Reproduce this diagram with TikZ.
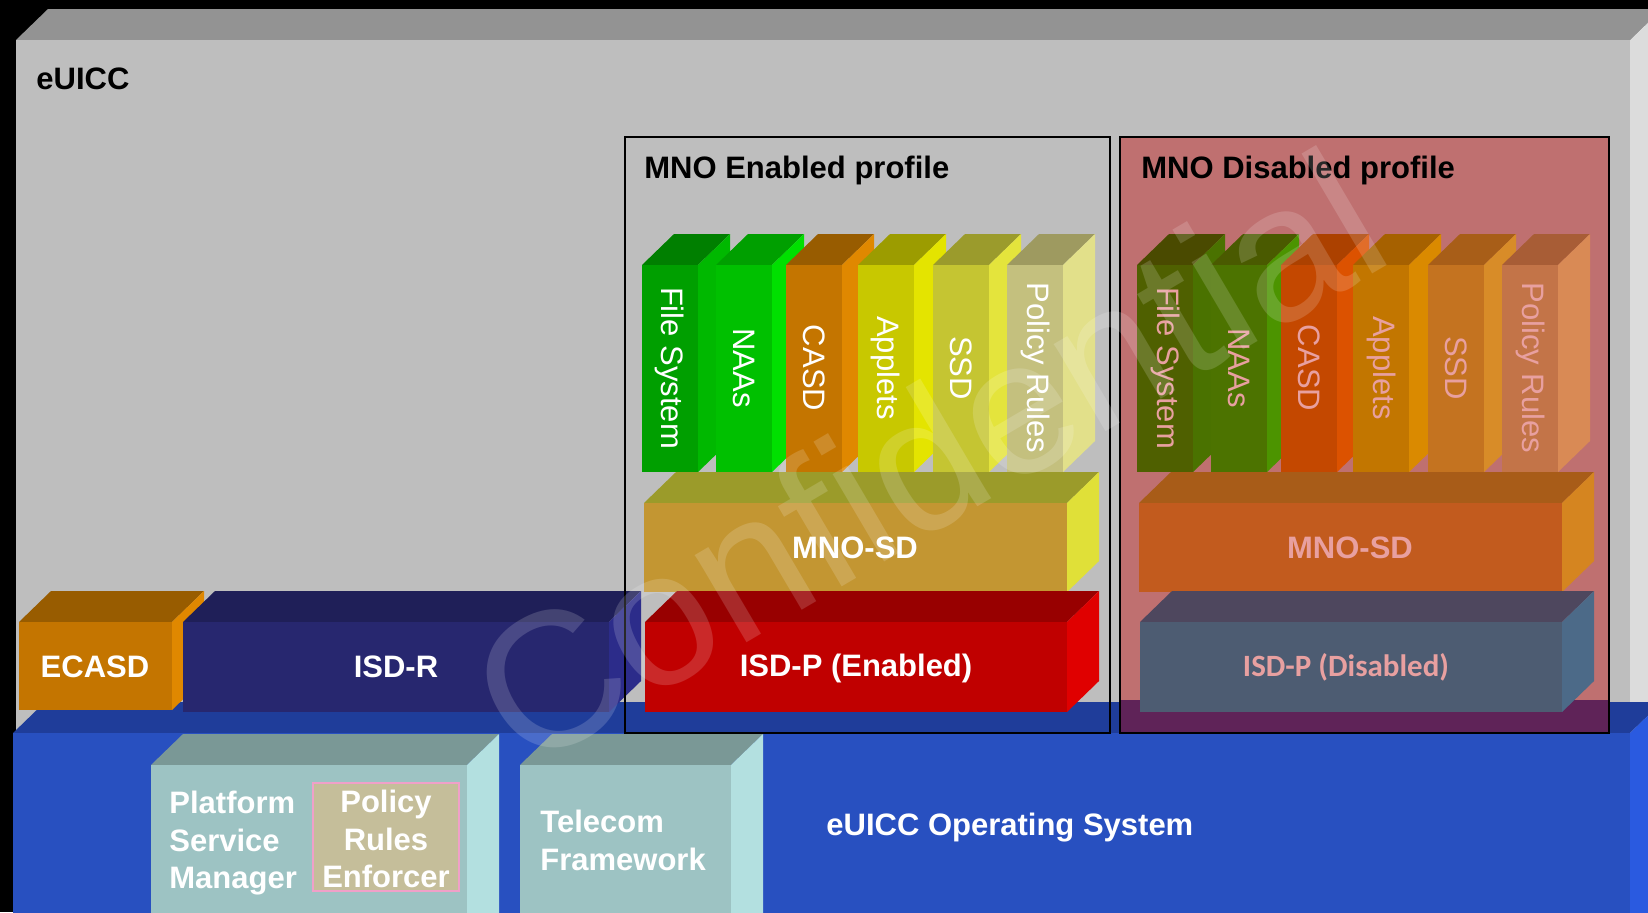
\documentclass[tikz,border=0pt]{standalone}
\usepackage{fontspec}
\setmainfont{Liberation Sans}
\newfontfamily\calfont{Carlito}
\usepackage{tikz}

% card and operating system
\definecolor{cardfront}{RGB}{190,190,190}
\definecolor{cardtop}{RGB}{147,147,147}
\definecolor{cardside}{RGB}{220,220,220}
\definecolor{osfront}{RGB}{40,80,192}
\definecolor{ostop}{RGB}{31,61,154}
\definecolor{osside}{RGB}{42,90,224}
\definecolor{svcfront}{RGB}{157,195,195}
\definecolor{svctop}{RGB}{122,152,150}
\definecolor{svcside}{RGB}{179,224,224}
\definecolor{prefill}{RGB}{197,190,154}
\definecolor{preline}{RGB}{240,160,200}
\definecolor{ecafront}{RGB}{196,117,0}
\definecolor{ecatop}{RGB}{152,92,0}
\definecolor{ecaside}{RGB}{224,136,0}
\definecolor{isdrfront}{RGB}{39,39,111}
\definecolor{isdrtop}{RGB}{31,31,88}
\definecolor{isdrside}{RGB}{44,44,138}
% enabled profile
\definecolor{fsfront}{RGB}{0,159,0}
\definecolor{fstop}{RGB}{0,127,0}
\definecolor{fsside}{RGB}{0,184,0}
\definecolor{naafront}{RGB}{0,192,0}
\definecolor{naatop}{RGB}{0,159,0}
\definecolor{naaside}{RGB}{0,224,0}
\definecolor{appfront}{RGB}{200,200,0}
\definecolor{apptop}{RGB}{156,156,0}
\definecolor{appside}{RGB}{228,228,0}
\definecolor{ssdfront}{RGB}{197,197,50}
\definecolor{ssdtop}{RGB}{155,155,44}
\definecolor{ssdside}{RGB}{228,228,60}
\definecolor{polfront}{RGB}{196,192,126}
\definecolor{poltop}{RGB}{158,154,96}
\definecolor{polside}{RGB}{226,224,138}
\definecolor{mnofront}{RGB}{195,150,50}
\definecolor{mnotop}{RGB}{155,155,42}
\definecolor{mnoside}{RGB}{224,224,56}
\definecolor{isdpfront}{RGB}{192,0,0}
\definecolor{isdptop}{RGB}{152,0,0}
\definecolor{isdpside}{RGB}{224,0,0}
% disabled profile
\definecolor{offfill}{RGB}{191,112,112}
\definecolor{offbottom}{RGB}{95,35,88}
\definecolor{offtext}{RGB}{232,160,160}
\definecolor{ofsfront}{RGB}{79,96,0}
\definecolor{ofstop}{RGB}{74,74,0}
\definecolor{ofsside}{RGB}{74,114,0}
\definecolor{onaafront}{RGB}{76,115,0}
\definecolor{onaatop}{RGB}{74,90,0}
\definecolor{onaaside}{RGB}{76,148,0}
\definecolor{ocasfront}{RGB}{196,72,0}
\definecolor{ocastop}{RGB}{172,65,0}
\definecolor{ocasside}{RGB}{220,82,0}
\definecolor{oappfront}{RGB}{194,118,0}
\definecolor{oapptop}{RGB}{166,97,0}
\definecolor{oappside}{RGB}{218,138,0}
\definecolor{ossdfront}{RGB}{196,115,32}
\definecolor{ossdtop}{RGB}{168,94,24}
\definecolor{ossdside}{RGB}{216,140,40}
\definecolor{opolfront}{RGB}{195,116,72}
\definecolor{opoltop}{RGB}{168,93,54}
\definecolor{opolside}{RGB}{217,138,85}
\definecolor{omnofront}{RGB}{194,91,30}
\definecolor{omnotop}{RGB}{168,92,24}
\definecolor{omnoside}{RGB}{213,133,32}
\definecolor{oisdpfront}{RGB}{77,92,114}
\definecolor{oisdptop}{RGB}{78,71,94}
\definecolor{oisdpside}{RGB}{76,106,136}

% 3D slab: front face (#1,#2)-(#3,#4), colours top / side / front
\newcommand{\slab}[7]{%
\fill[#5] (#1,#2) -- ++(32,-31) -- (#3+32,#2-31) -- (#3,#2) -- cycle;
\fill[#6] (#3,#2) -- ++(32,-31) -- (#3+32,#4-31) -- (#3,#4) -- cycle;
\fill[#7] (#1,#2) rectangle (#3,#4);
}

\begin{document}
\begin{tikzpicture}[x=0.5pt, y=-0.5pt,
  lbl/.style={font=\bfseries\fontsize{15.5}{18.75}\selectfont, text=white, inner sep=0pt},
  collbl/.style={font=\fontsize{15.5}{18}\selectfont, text=white, inner sep=0pt, rotate=-90},
  title/.style={font=\bfseries\fontsize{15.5}{18.75}\selectfont, inner sep=0pt, anchor=base west},
  profile/.style={draw=black, line width=1.2pt}]

\useasboundingbox (0,0) rectangle (1648,912);
\clip (0,0) rectangle (1648,912);
\fill[black] (0,0) rectangle (1648,912);


% eUICC card
\slab{16}{40}{1630}{960}{cardtop}{cardside}{cardfront}
\path 
(36,89) node[title] (euicc) {eUICC};


% Operating system
\slab{13}{733}{1630}{960}{ostop}{osside}{osfront}
\path 
(826,835) node[lbl, anchor=base west] (os) {eUICC Operating System};

\slab{151}{765}{467}{960}{svctop}{svcside}{svcfront}
\path 
(169,791) node[lbl, anchor=north west, align=left] (psm) {Platform\\Service\\Manager};

\filldraw[fill=prefill, draw=preline, line width=1pt] (313,783) rectangle (459,891);
\path 
(386,790) node[lbl, anchor=north, align=center] (pre) {Policy\\Rules\\Enforcer};

\slab{520}{765}{731}{960}{svctop}{svcside}{svcfront}
\path 
(540,810) node[lbl, anchor=north west, align=left] (tf) {Telecom\\Framework};


% ECASD and ISD-R
\slab{19}{622}{172}{710}{ecatop}{ecaside}{ecafront}
\path 
(95,667) node[lbl] (ecasd) {ECASD};

\slab{183}{622}{609}{712}{isdrtop}{isdrside}{isdrfront}
\path 
(396,667) node[lbl] (isdr) {ISD-R};


%
% Enabled profile
%
\path 
(644,178) node[title] (ontitle) {MNO Enabled profile};

\slab{642}{265}{698}{472}{fstop}{fsside}{fsfront}
\path (670,368) node[collbl] (onfs) {File System};

\slab{716}{265}{772}{472}{naatop}{naaside}{naafront}
\path (744,368) node[collbl] (onnaa) {NAAs};

\slab{786}{265}{842}{472}{ecatop}{ecaside}{ecafront}
\path (814,368) node[collbl] (oncasd) {CASD};

\slab{858}{265}{914}{472}{apptop}{appside}{appfront}
\path (886,368) node[collbl] (onapp) {Applets};

\slab{933}{265}{989}{472}{ssdtop}{ssdside}{ssdfront}
\path (961,368) node[collbl] (onssd) {SSD};

\slab{1007}{265}{1063}{472}{poltop}{polside}{polfront}
\path (1035,368) node[collbl] (onpol) {Policy Rules};

\slab{644}{503}{1067}{592}{mnotop}{mnoside}{mnofront}
\path (855,548) node[lbl] (onmno) {MNO-SD};

\slab{645}{622}{1067}{712}{isdptop}{isdpside}{isdpfront}
\path (856,668) node[lbl] (onisdp) {ISD-P (Enabled)};

\draw[profile] (625,137) rectangle (1110,733);


%
% Disabled profile
%
\fill[offfill] (1120,137) rectangle (1609,700);
\fill[offbottom] (1120,700) rectangle (1609,733);
\path 
(1141,178) node[title] (offtitle) {MNO Disabled profile};

\slab{1137}{265}{1193}{472}{ofstop}{ofsside}{ofsfront}
\path (1165,368) node[collbl, text=offtext] (offfs) {File System};

\slab{1211}{265}{1267}{472}{onaatop}{onaaside}{onaafront}
\path (1239,368) node[collbl, text=offtext] (offnaa) {NAAs};

\slab{1281}{265}{1337}{472}{ocastop}{ocasside}{ocasfront}
\path (1309,368) node[collbl, text=offtext] (offcasd) {CASD};

\slab{1353}{265}{1409}{472}{oapptop}{oappside}{oappfront}
\path (1381,368) node[collbl, text=offtext] (offapp) {Applets};

\slab{1428}{265}{1484}{472}{ossdtop}{ossdside}{ossdfront}
\path (1456,368) node[collbl, text=offtext] (offssd) {SSD};

\slab{1502}{265}{1558}{472}{opoltop}{opolside}{opolfront}
\path (1530,368) node[collbl, text=offtext] (offpol) {Policy Rules};

\slab{1139}{503}{1562}{592}{omnotop}{omnoside}{omnofront}
\path (1350,548) node[lbl, text=offtext] (offmno) {MNO-SD};

\slab{1140}{622}{1562}{712}{oisdptop}{oisdpside}{oisdpfront}
\path (1346,667) node[lbl, text=offtext, font=\calfont\bfseries\fontsize{15.5}{18.75}\selectfont] (offisdp) {ISD-P (Disabled)};

\draw[profile] (1120,137) rectangle (1609,733);


% watermark
\path 
(524,774) node[rotate=30.5, anchor=base west, inner sep=0pt, text=white, text opacity=0.16,
  font=\fontsize{96}{96}\selectfont] (mark) {Confidential};

\end{tikzpicture}
\end{document}
